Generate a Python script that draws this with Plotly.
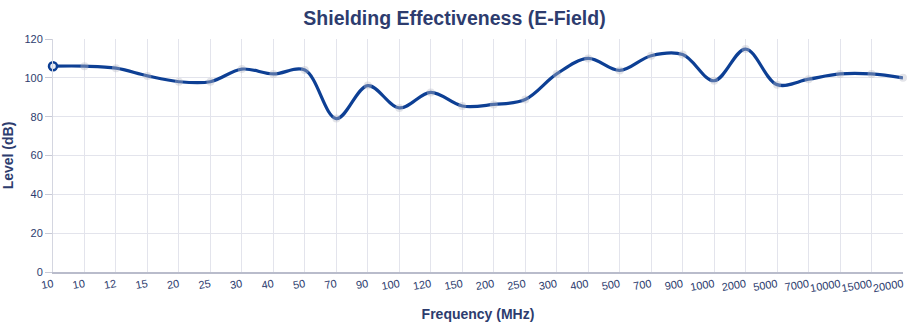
import plotly.graph_objects as go

freq_labels = ["10", "10", "12", "15", "20", "25", "30", "40", "50", "70", "90", "100",
               "120", "150", "200", "250", "300", "400", "500", "700", "900", "1000",
               "2000", "5000", "7000", "10000", "15000", "20000"]
level_db = [106, 106, 105, 101, 98, 98, 104.5, 102, 104, 79, 96, 84.5,
            92.5, 85.5, 86.3, 88.8, 102, 110, 103.8, 111.4, 112, 98.5,
            114.8, 96.5, 99.3, 102, 102, 100]
y_ticks = [0, 20, 40, 60, 80, 100, 120]

x_idx = list(range(len(freq_labels)))
navy = "#2d3c6e"
line_col = "#0d3f94"

fig = go.Figure()
fig.add_trace(go.Scatter(
    x=x_idx, y=level_db, mode="lines+markers",
    line=dict(color=line_col, width=3.2, shape="spline", smoothing=1.0),
    marker=dict(size=8, color="rgba(185,188,200,0.4)", line=dict(width=0)),
    hoverinfo="skip", showlegend=False, cliponaxis=False))
fig.add_trace(go.Scatter(
    x=x_idx[:1], y=level_db[:1], mode="markers",
    marker=dict(size=8, color="#e8ecf6", line=dict(color=line_col, width=2.5)),
    showlegend=False, cliponaxis=False))

fig.update_layout(
    width=909, height=328,
    margin=dict(l=53, r=6, t=39, b=56),
    paper_bgcolor="white", plot_bgcolor="white",
    font=dict(family="Liberation Sans, Arial, sans-serif", color=navy, size=11),
    title=dict(text="<b>Shielding Effectiveness (E-Field)</b>", x=0.5, xanchor="center",
               y=0.945, yanchor="middle",
               font=dict(size=19.5, color=navy)),
)
fig.update_xaxes(
    tickmode="array", tickvals=x_idx, ticktext=freq_labels,
    range=[0, len(freq_labels) - 1], tickangle=-10, automargin=False,
    showgrid=True, gridcolor="#e3e4ec", gridwidth=1,
    showline=True, linecolor="#b9bccb", linewidth=1.5,
    ticks="", zeroline=False,
    tickfont=dict(size=11, color=navy),
    title=dict(text="<b>Frequency (MHz)</b>", font=dict(size=14, color=navy), standoff=16),
)
fig.update_yaxes(
    tickmode="array", tickvals=y_ticks, range=[0, 120], automargin=False,
    showgrid=True, gridcolor="#e3e4ec", gridwidth=1,
    showline=True, linecolor="#d4d6e0", linewidth=1,
    ticks="outside", ticklen=7, tickcolor="#c8cad6",
    zeroline=False,
    tickfont=dict(size=11, color=navy),
    title=dict(text="<b>Level (dB)</b>", font=dict(size=14, color=navy), standoff=12),
)

fig.write_html("out.html")
